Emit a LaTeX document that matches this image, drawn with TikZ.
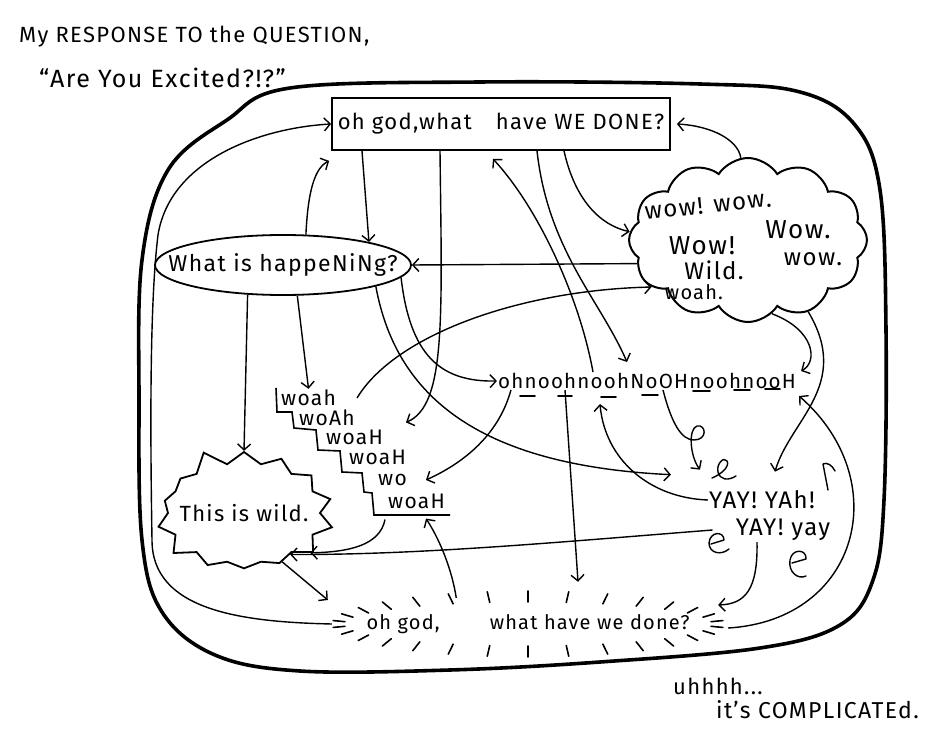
\documentclass[tikz,border=0pt]{standalone}
\usepackage{fontspec}
\setmainfont{Fira Sans}[LetterSpace=6]
\usetikzlibrary{arrows.meta,shapes.geometric,shapes.symbols,calc}
\newcommand{\handsz}[1]{\fontsize{#1}{#1}\selectfont}

\begin{document}
\begin{tikzpicture}[
  x=1pt, y=-1pt,
  word/.style={inner sep=1pt, font=\handsz{20}},
  topbox/.style={draw, line width=1.8pt, minimum width=338pt, minimum height=52pt,
                 inner sep=1pt, font=\handsz{22}},
  bubble/.style={draw, ellipse, line width=1.8pt, minimum width=256pt,
                 minimum height=60pt, inner sep=0pt},
  puff/.style={draw, cloud, cloud puffs=12, cloud puff arc=115, aspect=1.45,
               line width=2pt, minimum width=238pt, minimum height=164pt},
  burst/.style={draw, starburst, starburst points=14, starburst point height=18pt,
                random starburst=5, line width=1.8pt, minimum width=188pt,
                minimum height=136pt, inner sep=0pt},
  ring/.style={ellipse, minimum width=380pt, minimum height=56pt, inner sep=0pt},
  arr/.style={-{Straight Barb[length=6pt,width=13pt]}, line width=1.4pt},
  tick/.style={line width=1.6pt, line cap=round},
  curl/.style={line width=1.4pt, line cap=round, line join=round}]

\fill[white] (0,0) rectangle (951,735);
\useasboundingbox (0,0) rectangle (951,735);

\draw[line width=3.6pt] plot[smooth cycle, tension=0.6] coordinates {
  (290,88) (480,82) (700,84) (800,92) (855,125) (880,190) (886,330)
  (884,500) (873,580) (840,625) (760,648) (600,662) (450,670) (300,671)
  (215,655) (162,612) (142,540) (139,400) (142,260) (168,170) (227,120)};

\node[word, anchor=west, font=\handsz{22}] (title) at (18,37) {My RESPONSE TO the QUESTION,};
\node[word, anchor=west, font=\handsz{25}] (question) at (38,78) {``Are You Excited?!?''};

\node[topbox] (box) at (501,124) {oh god,what\hspace{1.1em}have WE DONE?};

\node[puff] (wow) at (748,240) {};
\node[word, rotate=6, font=\handsz{24}] (wow1) at (708,205) {wow! wow.};
\node[word, font=\handsz{26}] (wow2) at (702,246) {Wow!};
\node[word, font=\handsz{26}] (wow3) at (798,230) {Wow.};
\node[word, font=\handsz{24}] (wow4) at (714,270) {Wild.};
\node[word, font=\handsz{24}] (wow5) at (813,259) {wow.};
\node[word, font=\handsz{20}] (wow6) at (694,292) {woah.};

\node[bubble] (what) at (283,265) {};
\node[word, font=\handsz{23}] (whattext) at (what.center) {What is happeNiNg?};

\draw[line width=1.6pt] (276,388) -- (277,412) -- (292,412) -- (294,428) -- (316,430)
  -- (318,450) -- (340,451) -- (342,472) -- (362,473) -- (364,492) -- (372,493)
  -- (374,515) -- (450,515);
\node[word, anchor=west, font=\handsz{21}] (w1) at (280,398) {woah};
\node[word, anchor=west, font=\handsz{21}] (w2) at (298,418) {woAh};
\node[word, anchor=west, font=\handsz{21}] (w3) at (325,437) {woaH};
\node[word, anchor=west, font=\handsz{21}] (w4) at (348,457) {woaH};
\node[word, anchor=west, font=\handsz{21}] (w5) at (377,480) {wo};
\node[word, anchor=west, font=\handsz{21}] (w6) at (387,501) {woaH};

\node[burst] (wild) at (244,513) {};
\node[word, font=\handsz{22}] (wildtext) at (wild.center) {This is wild.};

\node[word, font=\handsz{20.5}] (ohno) at (647,381) {ohnoohnoohNoOHnoohnooH};
\foreach \xa/\xb/\yy in {520/535/396, 558/572/396, 601/616/397, 642/658/395,
                         693/710/391, 734/750/390, 765/780/389}
  \draw[tick] (\xa,\yy) -- (\xb,\yy);

\node[word, font=\handsz{24}] (yay1) at (762,500) {YAY! YAh!};
\node[word, font=\handsz{24}] (yay2) at (783,530) {YAY! yay};
\draw[curl] (712,478) .. controls (722,474) and (730,466) .. (727,461)
  .. controls (724,456) and (716,464) .. (718,472)
  .. controls (720,480) and (728,481) .. (736,476);
\draw[curl] (711,544) -- (724,540) .. controls (724,531) and (710,531) .. (709,543)
  .. controls (709,553) and (721,556) .. (729,549);
\draw[curl] (792,563) -- (806,559) .. controls (807,549) and (792,548) .. (790,560)
  .. controls (788,572) and (798,580) .. (806,576);
\draw[curl] (828,490) -- (823,464) .. controls (827,462) and (832,465) .. (835,471);

\node[ring] (done) at (528,624) {};
\node[word] (donetext) at (done.center) {oh god,\hspace{2.5em}what have we done?};
\foreach \t in {6,18,...,354}
  \draw[tick] ($(done.center)+(\t:184 and 22)$) -- ($(done.center)+(\t:196 and 33)$);

\node[word, anchor=west, font=\handsz{22}] (uh) at (672,686) {uhhhh...};
\node[word, anchor=west, font=\handsz{23}] (complicated) at (715,710) {it's COMPLICATEd.};

\draw[arr] ([xshift=-6pt]done.west) .. controls (240,622) and (152,610) .. (152,540)
  .. controls (150,420) and (150,300) .. (158,235)
  .. controls (170,160) and (260,128) .. (box.west);
\draw[arr] (what.53) .. controls (308,190) and (315,168) .. ([xshift=-2pt,yshift=-10pt]box.south west);
\draw[arr] ([xshift=-139pt]box.south) -- (what.15);
\draw[arr] ([xshift=-61pt]box.south) .. controls (442,320) and (446,405) .. ([xshift=22pt,yshift=6pt]w3.north east);
\draw[arr] ([xshift=-54pt]ohno.north) .. controls (580,300) and (540,210) .. ([xshift=-8pt,yshift=-8pt]box.south);
\draw[arr] ([xshift=36pt]box.south) .. controls (548,250) and (600,300) .. ([xshift=-20pt,yshift=10pt]ohno.north);
\draw[arr] ([xshift=63pt]box.south) .. controls (575,200) and (600,225) .. (wow.176);
\draw[arr] (wow.95) .. controls (738,140) and (712,126) .. ([xshift=6pt]box.east);
\draw[arr] (wow.192) -- (what.east);
\draw[arr] ([xshift=20pt]w1.east) .. controls (395,335) and (520,290) .. (wow.206);
\draw[arr] (what.220) -- (wild.north);
\draw[arr] (what.295) -- (w1.north);
\draw[arr] (what.-6) .. controls (410,355) and (440,382) .. (ohno.west);
\draw[arr] (what.-13) .. controls (395,390) and (470,465) .. ([xshift=-37pt,yshift=15pt]yay1.north west);
\draw[arr] ([xshift=14pt]ohno.south west) .. controls (500,430) and (470,460) .. ([xshift=18pt]w5.east);
\draw[arr] ([xshift=-82pt]ohno.south) -- ([xshift=50pt,yshift=14pt]done.north);
\draw[arr] (done.160) .. controls (452,570) and (440,540) .. ([xshift=-20pt,yshift=-9pt]w6.south east);
\draw[arr] ([xshift=-2pt,yshift=-10pt]w6.south west) .. controls (380,545) and (350,552) .. (wild.-31);
\draw[arr] ([xshift=-22pt]yay2.west) .. controls (560,542) and (420,555) .. (wild.-42);
\draw[arr] (wild.-52) -- ([xshift=-10pt,yshift=24pt]done.west);
\draw[arr] (yay1.west) .. controls (650,498) and (605,460) .. ([xshift=-47pt,yshift=-14pt]ohno.south);
\draw[arr] ([xshift=16pt]ohno.south) .. controls (672,425) and (682,440) .. (694,440)
  .. controls (708,440) and (706,424) .. (697,426)
  .. controls (688,429) and (690,456) .. ([xshift=-8pt,yshift=20pt]yay1.north west);
\draw[arr] (wow.-72) .. controls (815,330) and (818,362) .. ([xshift=4pt,yshift=10pt]ohno.east);
\draw[arr] (wow.-50) .. controls (852,385) and (790,420) .. ([xshift=13pt,yshift=18pt]yay1.north);
\draw[arr] ([xshift=10pt,yshift=-4pt]done.east) .. controls (860,620) and (895,480) .. ([xshift=2pt,yshift=-6pt]ohno.south east);
\draw[arr] ([xshift=-26pt]yay2.south) .. controls (758,590) and (745,604) .. ([yshift=19pt]done.east);
\end{tikzpicture}
\end{document}
